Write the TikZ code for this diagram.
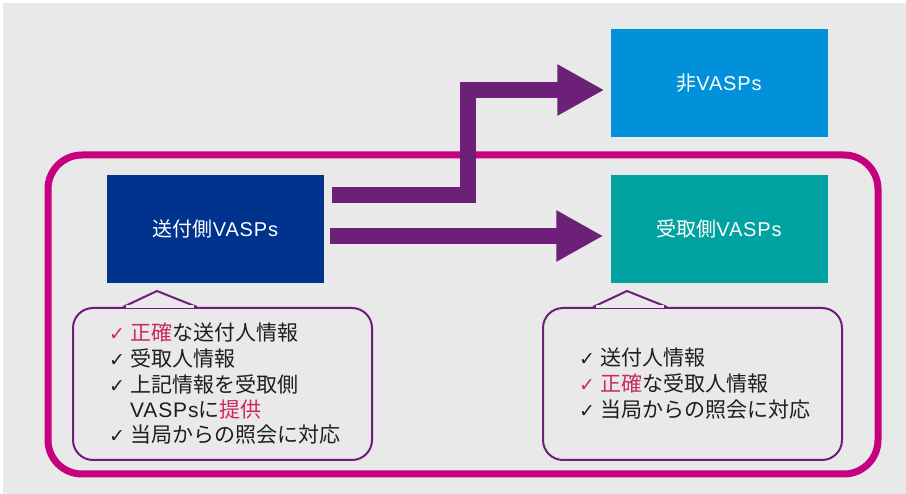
\documentclass[tikz,border=0pt]{standalone}
\usepackage{fontspec}
\setmainfont{Liberation Sans}
\newfontfamily\jp{Noto Sans CJK JP}
\newfontfamily\lat[LetterSpace=4]{Liberation Sans}
\newfontfamily\sym{DejaVu Sans}
\usetikzlibrary{arrows.meta}
\definecolor{bggrey}{HTML}{E9E9E9}
\definecolor{kdark}{HTML}{00338D}
\definecolor{klight}{HTML}{0091DA}
\definecolor{kteal}{HTML}{00A3A1}
\definecolor{kpurple}{HTML}{6D2077}
\definecolor{kmag}{HTML}{C6007E}
\definecolor{kred}{HTML}{CC2A5C}
\definecolor{ktext}{HTML}{1E1E1E}
\newcommand\chk{\makebox[21pt][l]{{\sym\fontsize{19}{19}\selectfont ✓}}}
\newcommand\rchk{{\color{kred}\chk}}
\begin{document}
\begin{tikzpicture}[x=1pt,y=-1pt,
  vbox/.style={rectangle, minimum width=217pt, minimum height=108pt, inner sep=0pt,
    text=white, font=\jp\fontsize{20}{24}\selectfont},
  bigarrow/.style={draw=kpurple, line width=16pt, line join=miter,
    -{Triangle[length=47pt,width=48pt]}},
  note/.style={rectangle, rounded corners=20pt, minimum width=299pt, minimum height=152pt,
    draw=kpurple, line width=2pt, fill=bggrey, inner sep=0pt},
  pointer/.style={draw=kpurple, line width=2pt, fill=bggrey, line join=round},
  ntext/.style={anchor=base west, inner sep=0pt, text=ktext,
    font=\jp\fontsize{21}{25}\selectfont}]
\useasboundingbox (0,0) rectangle (906,494);
\fill[white] (0,0) rectangle (906,494);
\fill[bggrey] (3,3) rectangle (906,494);
% frame
\draw[kmag, line width=7pt, rounded corners=34pt] (48,155) rectangle (878,474);
% boxes
\node[vbox, fill=kdark] (send) at (215.5,229) {送付側{\lat VASPs}};
\node[vbox, fill=klight] (non) at (719,83) {非{\lat VASPs}};
\node[vbox, fill=kteal] (recv) at (719,229) {受取側{\lat VASPs}};
% arrows
\draw[bigarrow] ([shift={(8,-34)}]send.east) -- ++(136,0) |- ([shift={(-6,7)}]non.west);
\draw[bigarrow] ([shift={(6,7)}]send.east) -- ([shift={(-7,7)}]recv.west);
% callouts
\node[note] (lnote) at (222.5,384) {};
\filldraw[pointer] ([xshift=-99.5]lnote.north) -- ([shift={(-65.5,-16)}]lnote.north) -- ([xshift=-25.5]lnote.north);
\draw[bggrey, line width=3pt] ([xshift=-96.5]lnote.north) -- ([xshift=-28.5]lnote.north);
\node[note] (rnote) at (692.5,384) {};
\filldraw[pointer] ([xshift=-99.5]rnote.north) -- ([shift={(-65.5,-16)}]rnote.north) -- ([xshift=-25.5]rnote.north);
\draw[bggrey, line width=3pt] ([xshift=-96.5]rnote.north) -- ([xshift=-28.5]rnote.north);
% left texts
\node[ntext] (l1) at (109,340.5) {\rchk{\color{kred}正確}な送付人情報};
\node[ntext] (l2) at (109,366.5) {\chk 受取人情報};
\node[ntext] (l3) at (109,392.5) {\chk 上記情報を受取側};
\node[ntext] (l4) at (109,417.5) {\hspace*{21pt}{\lat VASPs}に{\color{kred}提供}};
\node[ntext] (l5) at (109,442.5) {\chk 当局からの照会に対応};
% right texts
\node[ntext] (r1) at (579,365.5) {\chk 送付人情報};
\node[ntext] (r2) at (579,391.5) {\rchk{\color{kred}正確}な受取人情報};
\node[ntext] (r3) at (579,417.5) {\chk 当局からの照会に対応};
\end{tikzpicture}
\end{document}
